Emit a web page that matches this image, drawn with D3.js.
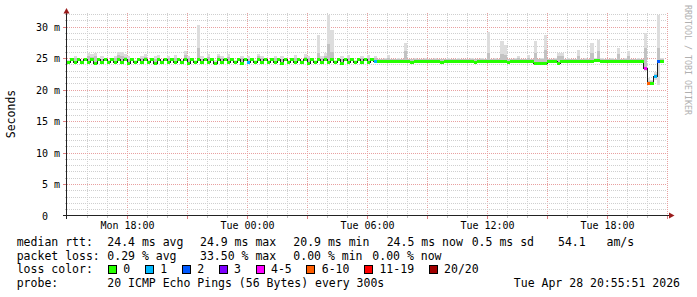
<!DOCTYPE html>
<html>
<head>
<meta charset="utf-8">
<script src="https://cdn.jsdelivr.net/npm/d3@7/dist/d3.min.js"></script>
<style>
html,body{margin:0;padding:0;background:#fff;}
svg text{font-family:"DejaVu Sans Mono",monospace;white-space:pre;}
</style>
</head>
<body>
<div id="chart"></div>
<script>
//data: one sample every 10 minutes, starting Mon Apr 27 15:00
var startTime=Date.UTC(2026,3,27,15,0,0);
var stepMin=10;
var median=[
24.4,24.8,24.4,24.9,24.4,24.8,24.4,24.9,24.3,24.8,24.4,24.8,24.4,24.9,24.4,24.8,24.4,24.9,24.3,24.8,
24.4,24.9,24.4,24.8,24.4,24.8,24.3,24.9,24.4,24.8,24.4,24.9,24.4,24.8,24.4,24.8,24.3,24.9,24.4,24.8,
24.4,24.9,24.4,24.8,24.3,24.9,24.4,24.8,24.4,24.8,24.4,24.9,24.3,24.8,24.4,24.9,24.4,24.8,24.4,24.9,
24.4,24.8,24.4,24.8,24.3,24.9,24.4,24.8,24.4,24.9,24.4,24.8,24.3,24.9,24.4,24.8,24.4,24.8,24.4,24.9,
24.4,24.8,24.3,24.9,24.4,24.8,24.4,24.9,24.4,24.8,24.4,24.8,24.5,24.5,24.5,24.5,24.6,24.5,24.5,24.5,
24.5,24.5,24.5,24.4,24.5,24.5,24.5,24.6,24.5,24.5,24.5,24.5,24.4,24.5,24.5,24.5,24.5,24.6,24.5,24.5,
24.5,24.5,24.4,24.5,24.5,24.5,24.5,24.5,24.6,24.5,24.5,24.5,24.4,24.5,24.5,24.5,24.5,24.6,24.5,24.5,
24.3,24.2,24.3,24.3,24.5,24.5,24.5,24.2,24.5,24.5,24.5,24.5,24.6,24.5,24.5,24.5,24.5,24.5,24.7,24.7,
24.6,24.5,24.5,24.5,24.5,24.5,24.5,24.5,24.6,24.5,24.5,24.5,24.5,23.4,21.0,21.1,22.1,24.6,24.5];
//lost pings out of 20
var loss=[
0,0,0,0,0,0,0,0,0,0,0,0,0,0,0,0,0,0,0,0,
0,0,0,0,0,0,0,0,0,0,0,0,0,0,0,0,0,0,0,0,
0,0,0,0,0,0,0,0,0,0,0,0,0,0,1,0,0,0,0,0,
0,0,0,0,0,0,0,0,0,0,0,0,0,0,0,0,0,0,0,0,
0,0,0,0,0,0,0,0,0,0,0,0,1,0,0,0,0,0,0,0,
0,0,0,0,0,0,0,0,0,0,0,0,0,0,0,0,0,0,0,0,
0,0,0,0,0,0,0,0,0,0,0,0,0,0,0,0,0,0,0,0,
0,0,0,0,0,0,0,0,0,0,0,0,0,0,0,0,0,0,0,0,
0,0,0,0,0,0,0,0,0,0,0,0,0,4,7,0,1,2,0];
//fastest ping
var smokeLo=[
24.1,24.5,24.1,24.6,24.1,24.5,24.1,24.6,24.0,24.5,24.1,24.5,24.1,24.6,24.1,24.5,24.1,24.6,24.0,24.5,
24.1,24.6,24.1,24.5,24.1,24.5,24.0,24.6,24.1,24.5,24.1,24.6,24.1,24.5,24.1,24.5,24.0,24.6,24.1,24.5,
24.1,24.6,24.1,24.5,24.0,24.6,24.1,24.5,24.1,24.5,24.1,24.6,24.0,24.5,24.1,24.6,24.1,24.5,24.1,24.6,
24.1,24.5,24.1,24.5,24.0,24.6,24.1,24.5,24.1,24.6,24.1,24.5,24.0,24.6,24.1,24.5,24.1,24.5,24.1,24.6,
24.1,24.5,24.0,24.6,24.1,24.5,24.1,24.6,24.1,24.5,24.1,24.5,24.2,24.2,24.2,24.2,24.3,24.2,24.2,24.2,
24.2,24.2,24.2,24.2,24.2,24.2,24.2,24.3,24.2,24.2,24.2,24.2,24.2,24.2,24.2,24.2,24.2,24.3,24.2,24.2,
24.2,24.2,24.2,24.2,24.2,24.2,24.2,24.2,24.3,24.2,24.2,24.2,24.2,24.2,24.2,24.2,24.2,24.3,24.2,24.2,
24.1,24.0,24.1,24.1,24.2,24.2,24.2,24.0,24.2,24.2,24.2,24.2,24.3,24.2,24.2,24.2,24.2,24.2,24.4,24.4,
24.3,24.2,24.2,24.2,24.2,24.2,24.2,24.2,24.3,24.2,24.2,24.2,24.2,23.0,20.7,20.8,21.5,20.7,24.2];
//upper quartile of the pings (darker smoke)
var smokeMid=[
24.4,24.8,25.0,24.9,24.4,24.8,25.3,25.2,25.3,24.8,24.9,24.8,24.4,24.9,25.0,25.5,25.4,25.2,24.9,24.8,
24.4,24.9,25.0,25.2,24.4,24.8,24.9,25.1,24.4,24.8,25.0,24.9,25.1,24.8,24.4,25.5,25.0,24.9,24.4,26.6,
24.9,24.9,25.2,24.8,24.3,25.3,25.0,24.8,25.2,24.8,24.4,24.9,25.0,24.8,24.9,24.9,24.4,25.3,25.0,24.9,
24.4,24.8,25.0,24.8,24.9,24.9,24.4,24.8,25.1,24.9,24.4,25.2,25.0,24.9,24.4,25.8,25.0,25.3,27.3,26.0,
24.4,24.8,24.9,24.9,25.1,24.8,24.4,24.9,25.0,24.8,25.1,24.8,25.0,24.8,24.8,24.8,25.1,24.8,24.8,24.8,
24.8,26.1,24.8,24.8,24.8,24.8,24.8,24.9,24.8,24.8,24.8,24.8,24.8,24.8,24.9,24.8,24.8,24.8,24.8,24.8,
24.8,24.8,24.8,24.8,24.8,24.8,25.8,24.8,24.8,24.8,25.6,25.5,24.8,24.8,24.8,25.0,24.8,24.8,25.1,24.8,
25.8,24.8,24.8,26.3,24.8,24.8,24.8,25.3,25.3,24.8,24.8,24.8,24.8,25.4,24.8,24.8,24.8,25.8,24.8,26.2,
24.9,24.8,24.8,24.8,24.8,25.6,24.8,24.8,25.3,24.8,24.8,24.8,24.8,26.6,21.4,21.4,22.5,26.6,24.8];
//slowest ping
var smokeHi=[
24.7,25.1,25.4,25.1,24.7,25.1,25.8,25.6,25.8,25.1,25.3,25.1,24.7,25.1,25.4,26.0,26.0,25.7,25.3,25.1,
24.7,25.1,25.4,25.7,24.7,25.1,25.3,25.5,24.7,25.1,25.4,25.1,25.5,25.1,24.7,26.1,25.4,25.1,24.7,30.3,
25.3,25.1,25.6,25.1,24.7,25.7,25.4,25.1,25.6,25.1,24.7,25.1,25.4,25.1,25.3,25.1,24.7,25.7,25.4,25.1,
24.7,25.1,25.4,25.1,25.3,25.1,24.7,25.1,25.5,25.1,24.7,25.6,25.4,25.1,24.7,28.7,25.4,25.8,31.9,29.5,
24.7,25.1,25.4,25.1,25.5,25.1,24.7,25.1,25.4,25.1,25.5,25.1,25.3,24.9,24.9,25.0,25.5,24.9,24.9,25.0,
24.9,27.4,24.9,24.9,25.0,24.9,24.9,25.1,24.9,24.9,25.0,24.9,24.9,24.9,25.1,24.9,24.9,25.0,24.9,24.9,
24.9,25.0,24.9,24.9,25.0,24.9,29.2,24.9,25.0,24.9,27.7,27.1,24.9,24.9,25.0,25.3,24.9,24.9,25.5,24.9,
27.7,24.9,25.0,28.7,24.9,24.9,25.0,25.8,25.8,24.9,25.0,24.9,24.9,26.3,24.9,25.0,24.9,27.4,25.0,27.9,
25.1,24.9,24.9,25.0,24.9,26.6,24.9,25.0,26.1,24.9,24.9,25.0,24.9,29.0,21.8,21.6,22.8,31.9,25.0];
//loss colour classes
var lossLabels=["0","1","2","3","4-5","6-10","11-19","20/20"];
var lossLimits=[0,1,2,3,5,10,19,20];
var lossColors=["#26ff00","#00b8ff","#0059ff","#7e00ff","#ff00ff","#ff5e00","#ff0000","#a10000"];
//ticks
var xTickTimes=[Date.UTC(2026,3,27,18),Date.UTC(2026,3,28,0),Date.UTC(2026,3,28,6),Date.UTC(2026,3,28,12),Date.UTC(2026,3,28,18)];
var xTickLabels=["Mon 18:00","Tue 00:00","Tue 06:00","Tue 12:00","Tue 18:00"];
var yTickValues=[0,5,10,15,20,25,30];
var yTickLabels=[" 0"," 5 m","10 m","15 m","20 m","25 m","30 m"];
//legend texts
var rttStats=["24.4 ms avg","24.9 ms max","20.9 ms min","24.5 ms now","0.5 ms sd","54.1   am/s"];
var lossStats=["0.29 % avg","33.50 % max","0.00 % min","0.00 % now"];
var probeText="20 ICMP Echo Pings (56 Bytes) every 300s";
var stampText="Tue Apr 28 20:55:51 2026";

function drawSmoke(divName){
    var svgwidth=697,svgheight=297;
    var _svg=d3.select("#"+divName).append("svg")
        .attr("width",svgwidth).attr("height",svgheight)
        .style("display","block").style("background","#fff");
    //1.plot frame
    var _margin={left:67,right:667,top:13,bottom:215.5};
    var endTime=startTime+30*3600*1000;
    var xscale=d3.scaleUtc().domain([startTime,endTime]).range([_margin.left,_margin.right]);
    var yscale=d3.scaleLinear().domain([0,30]).range([_margin.bottom,26.7]);
    var times=median.map(function(d,i){return startTime+i*stepMin*60000;});
    var stepMs=stepMin*60000;
    //2.grid lines
    var gGrid=_svg.append("g").attr("shape-rendering","crispEdges");
    var hours=d3.utcHour.range(startTime+3600000,endTime+1);
    gGrid.selectAll("line.v").data(hours).enter().append("line")
        .attr("x1",function(d){return Math.round(xscale(d))+0.5;})
        .attr("x2",function(d){return Math.round(xscale(d))+0.5;})
        .attr("y1",_margin.top).attr("y2",_margin.bottom)
        .attr("stroke",function(d){return d.getUTCHours()%3==0?"#e8a0a0":"#cfcfcf";})
        .attr("stroke-dasharray","1,1");
    var msLines=d3.range(1,33);
    gGrid.selectAll("line.h").data(msLines).enter().append("line")
        .attr("x1",_margin.left).attr("x2",_margin.right)
        .attr("y1",function(d){return Math.round(yscale(d))+0.5;})
        .attr("y2",function(d){return Math.round(yscale(d))+0.5;})
        .attr("stroke",function(d){return d%5==0?"#e8a0a0":"#cfcfcf";})
        .attr("stroke-dasharray","1,1");
    //tick marks on axes
    gGrid.selectAll("line.yt").data(msLines).enter().append("line")
        .attr("x1",function(d){return d%5==0?63:65;}).attr("x2",67)
        .attr("y1",function(d){return Math.round(yscale(d))+0.5;})
        .attr("y2",function(d){return Math.round(yscale(d))+0.5;})
        .attr("stroke",function(d){return d%5==0?"#e08080":"#c0c0c0";});
    gGrid.selectAll("line.xt").data(hours).enter().append("line")
        .attr("x1",function(d){return Math.round(xscale(d))+0.5;})
        .attr("x2",function(d){return Math.round(xscale(d))+0.5;})
        .attr("y1",216).attr("y2",function(d){return d.getUTCHours()%3==0?219:218;})
        .attr("stroke",function(d){return d.getUTCHours()%3==0?"#e08080":"#c0c0c0";});
    //3.smoke
    var gPlot=_svg.append("g").attr("shape-rendering","crispEdges");
    gPlot.selectAll("rect.smoke").data(times).enter().append("rect")
        .attr("x",function(d){return xscale(d);})
        .attr("width",function(d){return xscale(d+stepMs)-xscale(d);})
        .attr("y",function(d,i){return yscale(smokeHi[i]);})
        .attr("height",function(d,i){return Math.max(0,yscale(smokeLo[i])-yscale(smokeHi[i]));})
        .attr("fill","#dddddd");
    gPlot.selectAll("rect.smokem").data(times).enter().append("rect")
        .attr("x",function(d){return xscale(d);})
        .attr("width",function(d){return xscale(d+stepMs)-xscale(d);})
        .attr("y",function(d,i){return yscale(smokeMid[i]);})
        .attr("height",function(d,i){return Math.max(0,yscale(median[i])-yscale(smokeMid[i]));})
        .attr("fill","#c2c2c2");
    //4.median step line
    var linePts=times.map(function(d,i){return [d,median[i]];});
    linePts.push([times[times.length-1]+stepMs,median[median.length-1]]);
    var _line=d3.line()
        .x(function(d){return xscale(d[0]);})
        .y(function(d){return Math.round(yscale(d[1]))+0.5;})
        .curve(d3.curveStepAfter);
    gPlot.append("path").attr("d",_line(linePts))
        .attr("fill","none").attr("stroke","#202020").attr("stroke-width",1);
    //5.median band coloured by loss
    function lossColor(l){
        for(var k=0;k<lossLimits.length;k++){ if(l<=lossLimits[k]) return lossColors[k]; }
        return lossColors[lossColors.length-1];
    }
    gPlot.selectAll("rect.med").data(times).enter().append("rect")
        .attr("x",function(d){return xscale(d);})
        .attr("width",function(d){return xscale(d+stepMs)-xscale(d);})
        .attr("y",function(d,i){return Math.round(yscale(median[i]))-1;})
        .attr("height",3)
        .attr("fill",function(d,i){return lossColor(loss[i]);});
    //6.axes
    var gAxis=_svg.append("g").attr("shape-rendering","crispEdges");
    gAxis.append("line").attr("x1",66.5).attr("x2",66.5).attr("y1",219).attr("y2",12)
        .attr("stroke","#222");
    gAxis.append("line").attr("x1",63).attr("x2",670).attr("y1",215.5).attr("y2",215.5)
        .attr("stroke","#222");
    _svg.append("path").attr("d","M63.5,13.5L66.5,8L69.5,13.5Z").attr("fill","#9a1c1c");
    _svg.append("path").attr("d","M669,212.5L674.5,215.5L669,218.5Z").attr("fill","#9a1c1c");
    //tick labels
    var xaxis=d3.axisBottom(xscale).tickValues(xTickTimes)
        .tickFormat(function(d,i){return xTickLabels[i];}).tickSize(0);
    var gx=_svg.append("g").attr("transform","translate(0,215)").call(xaxis);
    gx.select(".domain").remove();
    gx.selectAll("text").attr("y",14).attr("dy",0).attr("fill","#000")
        .attr("font-size","10px").attr("font-family","DejaVu Sans Mono");
    var yaxis=d3.axisLeft(yscale).tickValues(yTickValues)
        .tickFormat(function(d,i){return yTickLabels[i];}).tickSize(0);
    var gy=_svg.append("g").attr("transform","translate(36,0)").call(yaxis);
    gy.select(".domain").remove();
    gy.selectAll("text").attr("x",0).attr("text-anchor","start").attr("dy","0.35em")
        .attr("fill","#000").attr("font-size","10px").attr("font-family","DejaVu Sans Mono");
    //7.titles
    _svg.append("text").attr("transform","translate(10.5,114) rotate(-90)")
        .attr("text-anchor","middle").attr("dominant-baseline","central")
        .attr("font-size","11.5px").attr("fill","#000").text("Seconds");
    _svg.append("text").attr("transform","translate(687.5,5) rotate(90)")
        .attr("text-anchor","start").attr("dominant-baseline","central")
        .attr("font-size","8.3px").attr("fill","#b0b0b0").text("RRDTOOL / TOBI OETIKER");
    //8.legend
    var fs=11.5,charW=fs*0.602;
    var rowY=[246,259.7,273.4,287];
    var colX=[107.3,200,293.3,386.7,471.7,558];
    var lossX=[107.3,200,293.3,372.3];
    var gLeg=_svg.append("g").attr("font-size",fs+"px").attr("fill","#000");
    gLeg.append("text").attr("x",16.7).attr("y",rowY[0]).text("median rtt:");
    gLeg.append("text").attr("x",16.7).attr("y",rowY[1]).text("packet loss:");
    gLeg.append("text").attr("x",16.7).attr("y",rowY[2]).text("loss color:");
    gLeg.append("text").attr("x",16.7).attr("y",rowY[3]).text("probe:");
    gLeg.selectAll("text.rtt").data(rttStats).enter().append("text")
        .attr("x",function(d,i){return colX[i];}).attr("y",rowY[0]).text(function(d){return d;});
    gLeg.selectAll("text.loss").data(lossStats).enter().append("text")
        .attr("x",function(d,i){return lossX[i];}).attr("y",rowY[1]).text(function(d){return d;});
    var cursor=108.5;
    lossLabels.forEach(function(lab,k){
        gLeg.append("rect").attr("x",cursor).attr("y",rowY[2]-8).attr("width",8).attr("height",8)
            .attr("fill",lossColors[k]).attr("stroke","#000").attr("stroke-width",1)
            .attr("shape-rendering","crispEdges");
        gLeg.append("text").attr("x",cursor+14.8).attr("y",rowY[2]).text(lab);
        cursor+=30+charW*lab.length;
    });
    gLeg.append("text").attr("x",107.3).attr("y",rowY[3]).text(probeText);
    gLeg.append("text").attr("x",680).attr("y",rowY[3]).attr("text-anchor","end").text(stampText);
}
drawSmoke("chart");
</script>
</body>
</html>
